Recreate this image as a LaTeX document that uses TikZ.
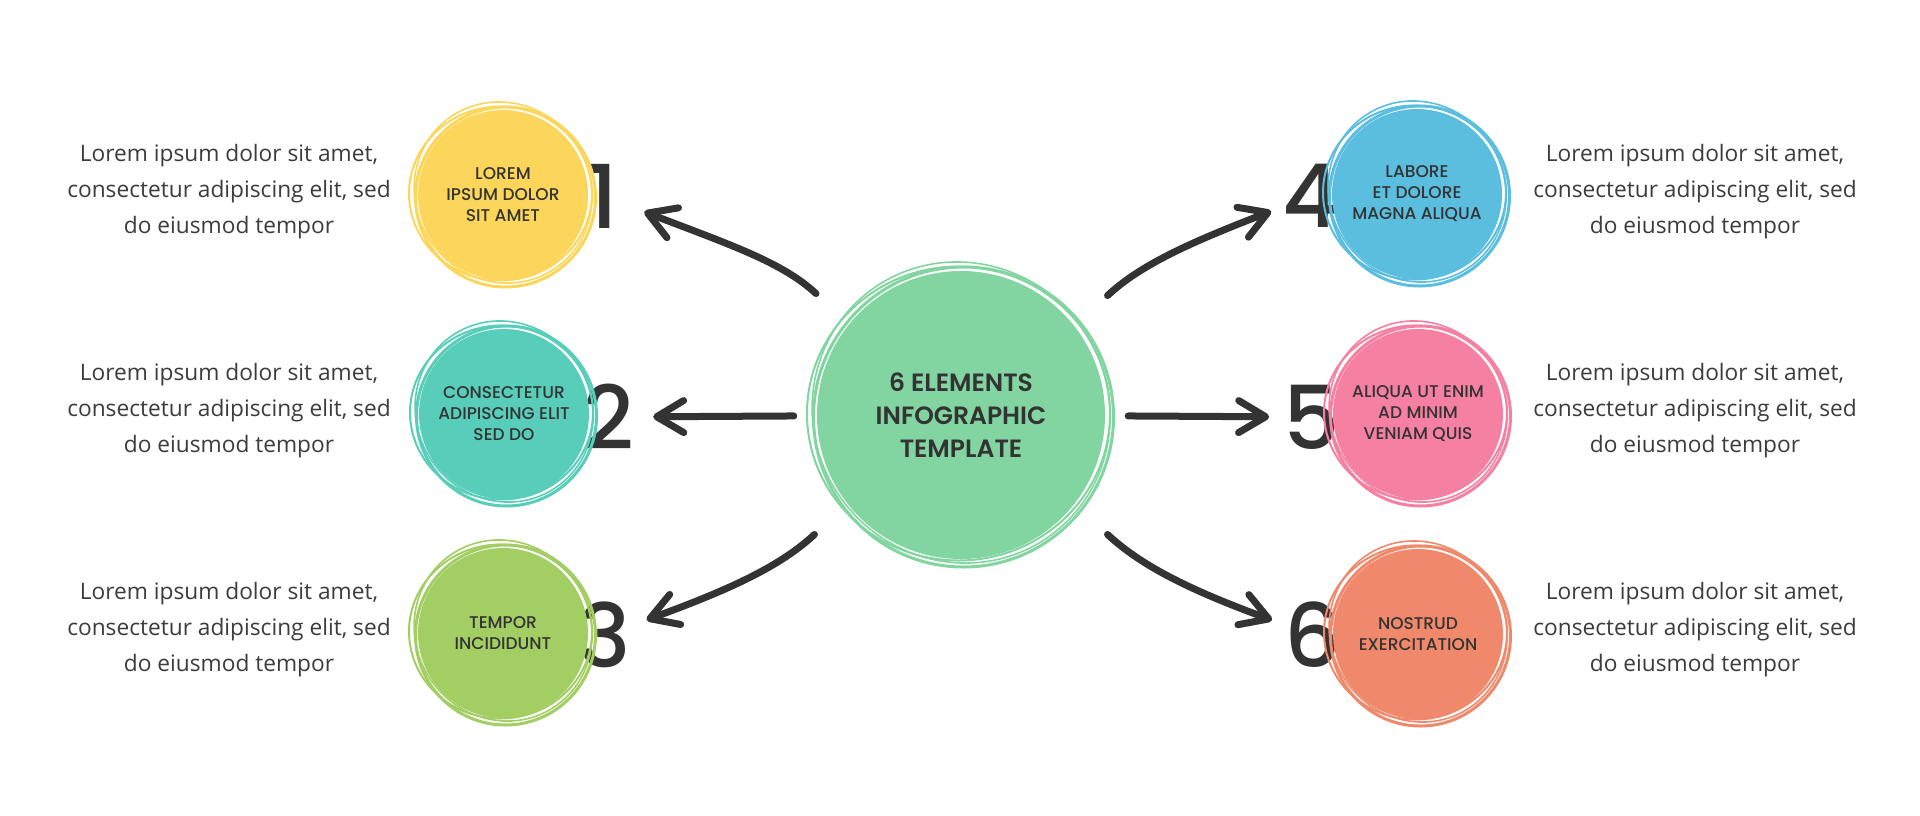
\documentclass[tikz,border=0pt]{standalone}
\usepackage{fontspec}
\setmainfont{Open Sans}
\newfontfamily\labelfont{Poppins Medium}
\newfontfamily\headfont{Poppins SemiBold}
\newfontfamily\digitfont{Poppins Medium}
\usetikzlibrary{arrows.meta,calc}
\definecolor{ink}{HTML}{333333}
\definecolor{bodytext}{HTML}{3C3C3C}
\definecolor{hubgreen}{HTML}{82D5A0}
\definecolor{oneyellow}{HTML}{FCD65A}
\definecolor{twoteal}{HTML}{58CEBA}
\definecolor{threegreen}{HTML}{A3CE63}
\definecolor{fourblue}{HTML}{5BBEDE}
\definecolor{fivepink}{HTML}{F680A1}
\definecolor{sixorange}{HTML}{F0896C}
% hand drawn outline: centre node, radius, colour
\newcommand{\scribble}[3]{%
 \draw[#3,line width=3] ($(#1)+(2.5,-2)$) circle ({#2});
 \draw[#3,line width=2] ($(#1)+(-2.5,1.5)$) ellipse ({#2+1.5} and {#2-3});
 \draw[#3,line width=1.6,rotate around={35:(#1)}] ($(#1)+(1.5,2)$) ellipse ({#2-2.5} and {#2+2});}

\begin{document}
\begin{tikzpicture}[x=1pt,y=1pt,
 every node/.style={align=center},
 desc/.style={font=\fontsize{22.7}{36}\selectfont,text=bodytext},
 bubble/.style={circle,inner sep=0,minimum size=170,text=ink,font=\labelfont\fontsize{17}{21}\selectfont},
 hubdisc/.style={circle,inner sep=0,minimum size=288,fill=hubgreen,text=ink,font=\headfont\fontsize{25}{33}\selectfont},
 num/.style={circle,inner sep=0,text=ink,font=\digitfont\fontsize{88}{88}\selectfont},
 numl/.style={num,minimum size=88},
 numr/.style={num,minimum size=72},
 flow/.style={-{Straight Barb[length=27pt,width=32pt,round]},line width=7pt,draw=ink,line cap=round}]

\fill[white] (0,0) rectangle (1920,-815);
\useasboundingbox (0,0) rectangle (1920,-815);

% numbers sit behind the bubbles
\node[numl] (n1) at (603,-196) {1};
\node[numl] (n2) at (609,-417) {2};
\node[numl] (n3) at (605,-635) {3};
\node[numr] (n4) at (1311,-196) {4};
\node[numr] (n5) at (1312,-417) {5};
\node[numr] (n6) at (1313,-635) {6};

\node[hubdisc] (hub) at (961,-415) {6 ELEMENTS\\INFOGRAPHIC\\TEMPLATE};
\scribble{hub}{150}{hubgreen}

\node[bubble,fill=oneyellow] (c1) at (503,-195) {LOREM\\IPSUM DOLOR\\SIT AMET};
\node[bubble,fill=twoteal] (c2) at (504,-414) {CONSECTETUR\\ADIPISCING ELIT\\SED DO};
\node[bubble,fill=threegreen] (c3) at (503,-633) {TEMPOR\\INCIDIDUNT};
\node[bubble,fill=fourblue] (c4) at (1417,-194) {LABORE\\ET DOLORE\\MAGNA ALIQUA};
\node[bubble,fill=fivepink] (c5) at (1418,-414) {ALIQUA UT ENIM\\AD MINIM\\VENIAM QUIS};
\node[bubble,fill=sixorange] (c6) at (1418,-634) {NOSTRUD\\EXERCITATION};
\scribble{c1}{90}{oneyellow}
\scribble{c2}{90}{twoteal}
\scribble{c3}{90}{threegreen}
\scribble{c4}{90}{fourblue}
\scribble{c5}{90}{fivepink}
\scribble{c6}{90}{sixorange}

\node[desc] (d1) at (229,-192) {Lorem ipsum dolor sit amet,\\consectetur adipiscing elit, sed\\do eiusmod tempor};
\node[desc] (d2) at (229,-411) {Lorem ipsum dolor sit amet,\\consectetur adipiscing elit, sed\\do eiusmod tempor};
\node[desc] (d3) at (229,-630) {Lorem ipsum dolor sit amet,\\consectetur adipiscing elit, sed\\do eiusmod tempor};
\node[desc] (d4) at (1695,-192) {Lorem ipsum dolor sit amet,\\consectetur adipiscing elit, sed\\do eiusmod tempor};
\node[desc] (d5) at (1695,-411) {Lorem ipsum dolor sit amet,\\consectetur adipiscing elit, sed\\do eiusmod tempor};
\node[desc] (d6) at (1695,-630) {Lorem ipsum dolor sit amet,\\consectetur adipiscing elit, sed\\do eiusmod tempor};

\draw[flow,shorten <=45] (hub.141.5) to[out=137,in=-21] (n1);
\draw[flow,shorten <=23] (hub) -- (n2);
\draw[flow,shorten <=45] (hub.218.5) to[out=223,in=20] (n3);
\draw[flow,shorten <=45] (hub.38.5) to[out=43,in=201] (n4);
\draw[flow,shorten <=23] (hub) -- (n5);
\draw[flow,shorten <=45] (hub.-38.5) to[out=-43,in=160] (n6);
\end{tikzpicture}
\end{document}
